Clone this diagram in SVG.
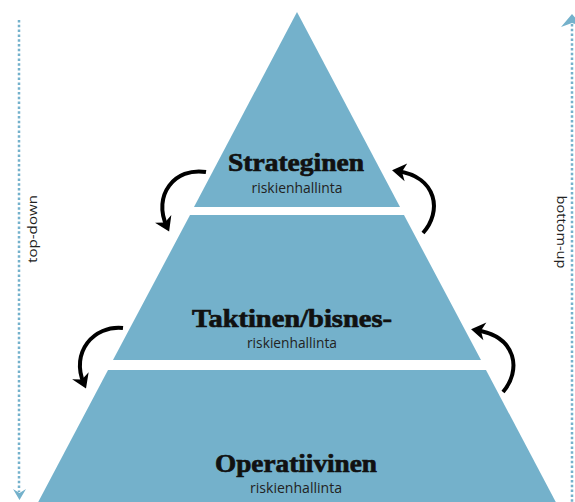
<svg xmlns="http://www.w3.org/2000/svg" width="575" height="502" viewBox="0 0 575 502">
<defs>
<style>
.tier{fill:#74b1cb;}
.h{font-family:"Liberation Serif","Times New Roman",serif;font-weight:bold;fill:#111;stroke:#111;stroke-width:0.7;text-anchor:middle;}
.s{font-family:"Open Sans","Noto Sans",sans-serif;font-size:14px;fill:#222;text-anchor:middle;}
.side{font-family:"Open Sans","Noto Sans",sans-serif;font-size:13.5px;fill:#222;text-anchor:middle;}
.dot{stroke:#74b1cb;stroke-width:2.5;stroke-dasharray:2.5 2.3;fill:none;}
.curve{stroke:#000;stroke-width:4;fill:none;marker-end:url(#head);}
</style>
<marker id="head" markerUnits="userSpaceOnUse" orient="auto" markerWidth="30" markerHeight="30" viewBox="-15 -15 30 30" refX="0" refY="0">
<path d="M5,0 L-9,-9 L-5,0 L-9,9 Z" fill="#000"/>
</marker>
</defs>
<rect width="575" height="502" fill="#fff"/>
<g id="tier-strategic">
<polygon class="tier" points="297,12 194,207 400,207"/>
<text class="h" x="296" y="171" font-size="26" textLength="136" lengthAdjust="spacingAndGlyphs">Strateginen</text>
<text class="s" x="297" y="193" textLength="91" lengthAdjust="spacingAndGlyphs">riskienhallinta</text>
</g>
<g id="tier-tactical">
<polygon class="tier" points="190,215 404,215 481,360 113,360"/>
<text class="h" x="292" y="327" font-size="26" textLength="200" lengthAdjust="spacingAndGlyphs">Taktinen/bisnes-</text>
<text class="s" x="292" y="348" textLength="90" lengthAdjust="spacingAndGlyphs">riskienhallinta</text>
</g>
<g id="tier-operational">
<polygon class="tier" points="108,370 486,370 560,510 34,510"/>
<text class="h" x="296" y="472" font-size="26" textLength="162" lengthAdjust="spacingAndGlyphs">Operatiivinen</text>
<text class="s" x="296" y="493" textLength="92" lengthAdjust="spacingAndGlyphs">riskienhallinta</text>
</g>
<g id="top-down">
<line class="dot" x1="19" y1="20" x2="19" y2="492"/>
<path d="M13,489 L19.5,500 L26,489 L19.5,493 Z" fill="#74b1cb"/>
<text class="side" transform="translate(37,229) rotate(-90)" textLength="68" lengthAdjust="spacingAndGlyphs">top-down</text>
</g>
<g id="bottom-up">
<line class="dot" x1="572" y1="24" x2="572" y2="502"/>
<path d="M561,27 L572,14 L583,27 L572,23 Z" fill="#74b1cb"/>
<text class="side" transform="translate(557,232) rotate(90)" textLength="73" lengthAdjust="spacingAndGlyphs">bottom-up</text>
</g>
<g id="connectors">
<path class="curve" d="M206,172 C175,167 152,195 167,227"/>
<path class="curve" d="M423,233 C442,212 438,177 397,171"/>
<path class="curve" d="M123,328 C94,325 70,352 84,384"/>
<path class="curve" d="M503,392 C521,371 518,337 476,330"/>
</g>
</svg>
